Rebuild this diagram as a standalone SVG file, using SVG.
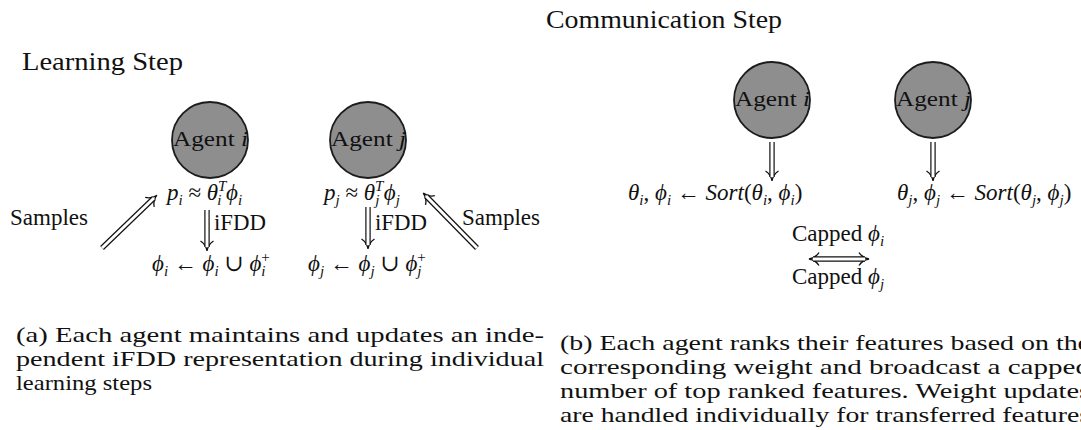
<svg xmlns="http://www.w3.org/2000/svg" width="1081" height="430" viewBox="0 0 1081 430">
  <style>
    text { font-family: "Liberation Serif", "DejaVu Serif", serif; fill: #111; }
    .title { font-size: 25px; }
    .lbl { font-size: 23px; }
    .cap { font-size: 22px; }
    .it { font-style: italic; }
    .s { font-size: 15px; }
    .agent { fill: #8e8e8e; stroke: #1c1c1c; stroke-width: 1.8; }
    .agent-t { font-size: 22px; }
    .dbl-o { fill: none; stroke: #111; stroke-width: 5.4; }
    .dbl-i { fill: none; stroke: #fff; stroke-width: 3; }
  </style>
  <defs>
    <!-- curved chevron used as the head of the double-stroke arrows -->
    <marker id="dhead" markerUnits="userSpaceOnUse" markerWidth="18" markerHeight="18" viewBox="-9 -9 18 18" refX="0" refY="0" orient="auto-start-reverse">
      <path d="M-6,-6.5 C-3.5,-2.5 0,-0.7 4,0 C0,0.7 -3.5,2.5 -6,6.5" fill="none" stroke="#111" stroke-width="1.3"/>
    </marker>
  </defs>

  <rect width="1081" height="430" fill="#fff"/>

  <!-- (a) learning step -->
  <text class="title" x="22" y="70" textLength="161" lengthAdjust="spacingAndGlyphs">Learning Step</text>

  <g id="agent-i-learn">
    <circle class="agent" cx="210" cy="140" r="38"/>
    <text class="agent-t" x="173" y="146" textLength="75" lengthAdjust="spacingAndGlyphs">Agent <tspan class="it">i</tspan></text>
  </g>
  <g id="agent-j-learn">
    <circle class="agent" cx="368" cy="140" r="38"/>
    <text class="agent-t" x="331" y="146" textLength="75" lengthAdjust="spacingAndGlyphs">Agent <tspan class="it">j</tspan></text>
  </g>

  <g id="approx-i">
    <text class="lbl" x="167" y="200"><tspan class="it">p</tspan><tspan class="s it" dy="5">i</tspan><tspan dy="-5"> ≈ </tspan><tspan class="it">θ</tspan><tspan class="s it" dy="-9">T</tspan><tspan class="s it" dx="-8.3" dy="14">i</tspan><tspan class="it" dx="4.5" dy="-5">ϕ</tspan><tspan class="s it" dy="5">i</tspan></text>
  </g>
  <g id="approx-j">
    <text class="lbl" x="324" y="200"><tspan class="it">p</tspan><tspan class="s it" dy="5">j</tspan><tspan dy="-5"> ≈ </tspan><tspan class="it">θ</tspan><tspan class="s it" dy="-9">T</tspan><tspan class="s it" dx="-8.3" dy="14">j</tspan><tspan class="it" dx="4.5" dy="-5">ϕ</tspan><tspan class="s it" dy="5">j</tspan></text>
  </g>

  <g id="samples-left"><text class="lbl" x="10" y="225" textLength="78" lengthAdjust="spacingAndGlyphs">Samples</text></g>
  <g id="samples-right"><text class="lbl" x="462" y="225" textLength="78" lengthAdjust="spacingAndGlyphs">Samples</text></g>

  <g id="update-i">
    <text class="lbl" x="152" y="271"><tspan class="it">ϕ</tspan><tspan class="s it" dy="5">i</tspan><tspan dy="-5"> ← </tspan><tspan class="it">ϕ</tspan><tspan class="s it" dy="5">i</tspan><tspan dy="-5"> ∪ </tspan><tspan class="it">ϕ</tspan><tspan class="s" dy="-9">+</tspan><tspan class="s it" dx="-8.5" dy="14">i</tspan></text>
  </g>
  <g id="update-j">
    <text class="lbl" x="308" y="271"><tspan class="it">ϕ</tspan><tspan class="s it" dy="5">j</tspan><tspan dy="-5"> ← </tspan><tspan class="it">ϕ</tspan><tspan class="s it" dy="5">j</tspan><tspan dy="-5"> ∪ </tspan><tspan class="it">ϕ</tspan><tspan class="s" dy="-9">+</tspan><tspan class="s it" dx="-8.5" dy="14">j</tspan></text>
  </g>

  <!-- (b) communication step -->
  <text class="title" x="546" y="28" textLength="236" lengthAdjust="spacingAndGlyphs">Communication Step</text>

  <g id="agent-i-comm">
    <circle class="agent" cx="772" cy="100" r="38"/>
    <text class="agent-t" x="735" y="106" textLength="75" lengthAdjust="spacingAndGlyphs">Agent <tspan class="it">i</tspan></text>
  </g>
  <g id="agent-j-comm">
    <circle class="agent" cx="933" cy="100" r="38"/>
    <text class="agent-t" x="896" y="106" textLength="75" lengthAdjust="spacingAndGlyphs">Agent <tspan class="it">j</tspan></text>
  </g>

  <g id="sort-i">
    <text class="lbl" x="628" y="200"><tspan class="it">θ</tspan><tspan class="s it" dy="5">i</tspan><tspan dy="-5">, </tspan><tspan class="it">ϕ</tspan><tspan class="s it" dy="5">i</tspan><tspan dy="-5"> ← </tspan><tspan class="it">Sort</tspan><tspan>(</tspan><tspan class="it">θ</tspan><tspan class="s it" dy="5">i</tspan><tspan dy="-5">, </tspan><tspan class="it">ϕ</tspan><tspan class="s it" dy="5">i</tspan><tspan dy="-5">)</tspan></text>
  </g>
  <g id="sort-j">
    <text class="lbl" x="897" y="200"><tspan class="it">θ</tspan><tspan class="s it" dy="5">j</tspan><tspan dy="-5">, </tspan><tspan class="it">ϕ</tspan><tspan class="s it" dy="5">j</tspan><tspan dy="-5"> ← </tspan><tspan class="it">Sort</tspan><tspan>(</tspan><tspan class="it">θ</tspan><tspan class="s it" dy="5">j</tspan><tspan dy="-5">, </tspan><tspan class="it">ϕ</tspan><tspan class="s it" dy="5">j</tspan><tspan dy="-5">)</tspan></text>
  </g>

  <g id="capped">
    <text class="lbl" x="838" y="241" text-anchor="middle">Capped <tspan class="it">ϕ</tspan><tspan class="s it" dy="5">i</tspan></text>
    <text class="lbl" x="838" y="284" text-anchor="middle">Capped <tspan class="it">ϕ</tspan><tspan class="s it" dy="5">j</tspan></text>
  </g>

  <!-- connectors: double-stroke arrows (outer dark stroke, inner white gap) -->
  <g id="connectors">
    <path class="dbl-o" d="M102,248 L154,198" marker-end="url(#dhead)"/>
    <path class="dbl-i" d="M102,248 L154,198"/>
    <path class="dbl-o" d="M207,210 L207,247" marker-end="url(#dhead)"/>
    <path class="dbl-i" d="M207,210 L207,247"/>
    <path class="dbl-o" d="M368,207 L368,245" marker-end="url(#dhead)"/>
    <path class="dbl-i" d="M368,207 L368,245"/>
    <path class="dbl-o" d="M477,248 L426,196" marker-end="url(#dhead)"/>
    <path class="dbl-i" d="M477,248 L426,196"/>
    <path class="dbl-o" d="M772,142 L772,177" marker-end="url(#dhead)"/>
    <path class="dbl-i" d="M772,142 L772,177"/>
    <path class="dbl-o" d="M933,142 L933,177" marker-end="url(#dhead)"/>
    <path class="dbl-i" d="M933,142 L933,177"/>
    <path class="dbl-o" d="M813,259 L865,259" marker-start="url(#dhead)" marker-end="url(#dhead)"/>
    <path class="dbl-i" d="M813,259 L865,259"/>
  </g>
  <g id="edge-labels">
    <text class="lbl" x="214" y="230" textLength="52" lengthAdjust="spacingAndGlyphs">iFDD</text>
    <text class="lbl" x="375" y="230" textLength="52" lengthAdjust="spacingAndGlyphs">iFDD</text>
  </g>

  <!-- captions -->
  <g id="caption-a">
    <text class="cap" x="16" y="342" textLength="528" lengthAdjust="spacingAndGlyphs">(a) Each agent maintains and updates an inde-</text>
    <text class="cap" x="16" y="366" textLength="528" lengthAdjust="spacingAndGlyphs">pendent iFDD representation during individual</text>
    <text class="cap" x="16" y="390" textLength="136" lengthAdjust="spacingAndGlyphs">learning steps</text>
  </g>
  <g id="caption-b">
    <text class="cap" x="560" y="350" textLength="530" lengthAdjust="spacingAndGlyphs">(b) Each agent ranks their features based on the</text>
    <text class="cap" x="560" y="374" textLength="530" lengthAdjust="spacingAndGlyphs">corresponding weight and broadcast a capped</text>
    <text class="cap" x="560" y="398" textLength="530" lengthAdjust="spacingAndGlyphs">number of top ranked features. Weight updates</text>
    <text class="cap" x="560" y="422" textLength="530" lengthAdjust="spacingAndGlyphs">are handled individually for transferred features</text>
  </g>
</svg>
